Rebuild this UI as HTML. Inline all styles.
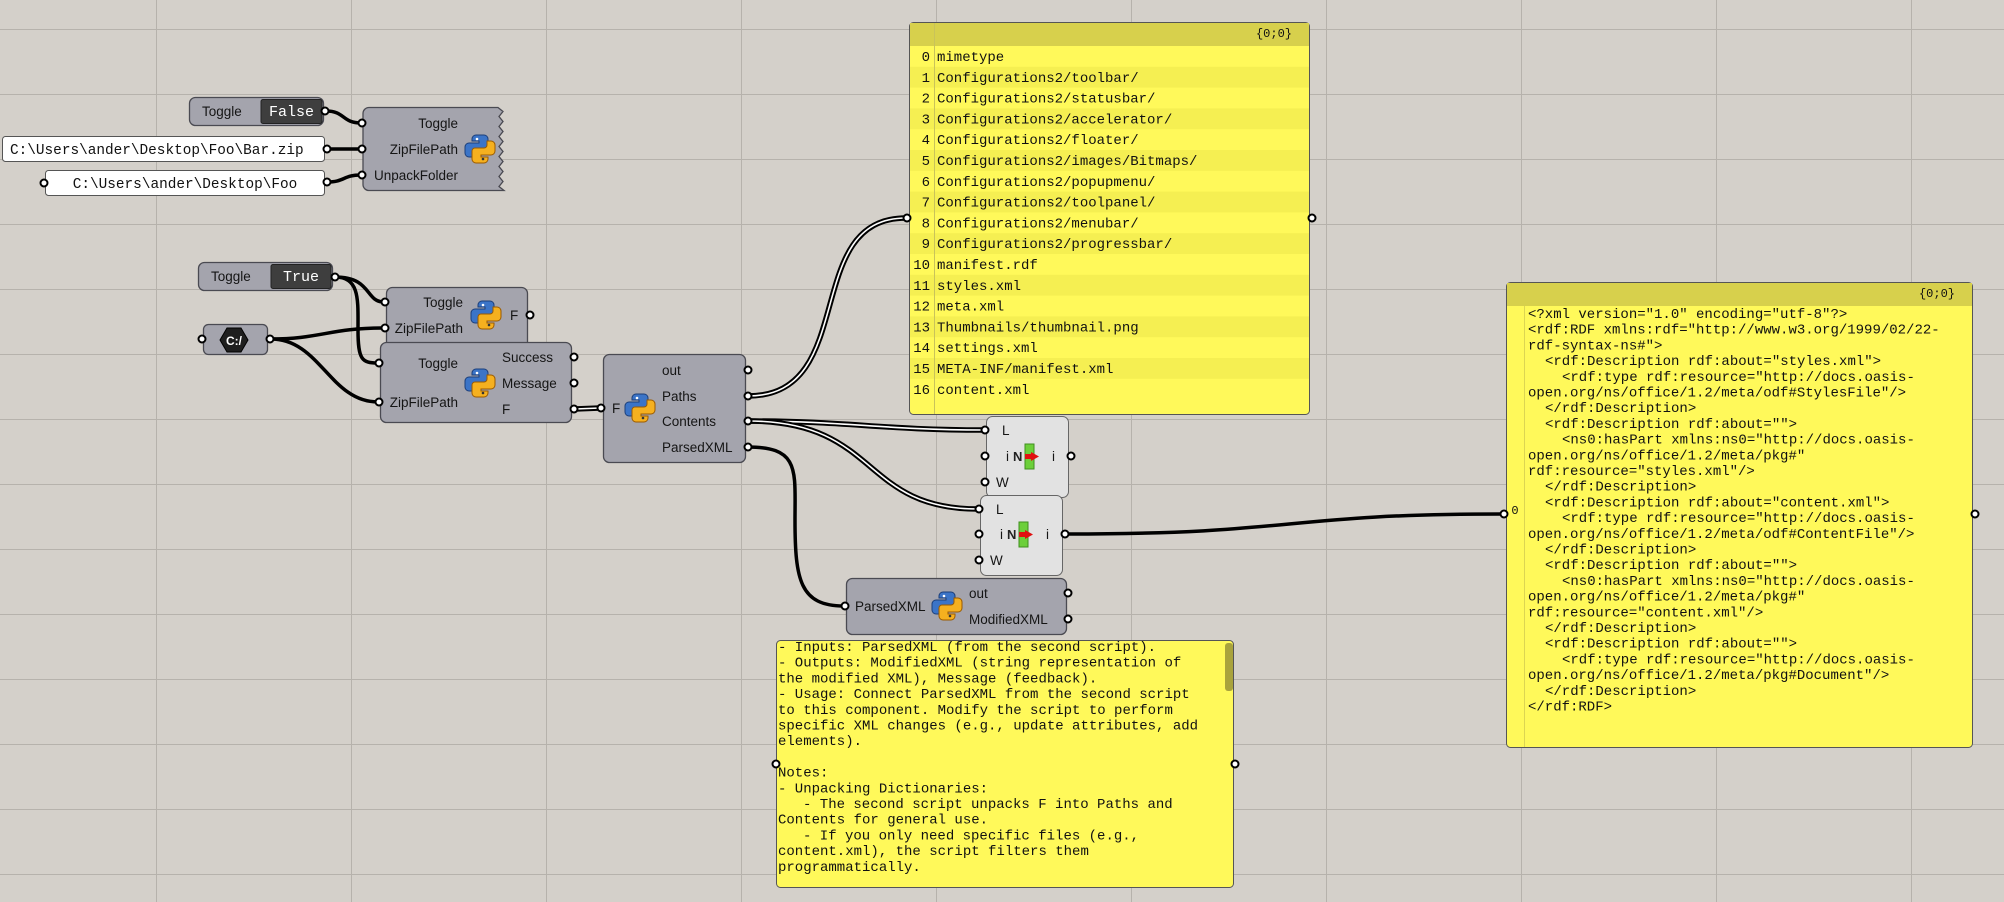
<!DOCTYPE html>
<html><head><meta charset="utf-8"><style>
html,body{margin:0;padding:0;background:#d4d0ca;}
svg{display:block}
.s{font-family:"Liberation Sans",sans-serif;font-size:13.5px;fill:#151515}
.m{font-family:"Liberation Mono",monospace;font-size:14px;fill:#111;white-space:pre}
.m text{white-space:pre}
.c{fill:#a4a4ad;stroke:#4a4a52;stroke-width:1.3}
.p{fill:#fff;stroke:#000;stroke-width:2}
.w{fill:none;stroke:#000;stroke-width:3.5}
.dw{fill:none;stroke:#000;stroke-width:5.5}
.dwi{fill:none;stroke:#fff;stroke-width:1.6}
</style></head><body>
<svg width="2004" height="902" viewBox="0 0 2004 902" xmlns="http://www.w3.org/2000/svg">
<defs>
<g id="py">
<path d="M-1,-14 h5 a4,4 0 0 1 4,4 v8 a3,3 0 0 1 -3,3 h-9 a3,3 0 0 0 -3,3 v4 h-4 a4,4 0 0 1 -4,-4 v-6 a4,4 0 0 1 4,-4 h10 v-2 h-7 v-2 a4,4 0 0 1 4,-4z" fill="#3b74c7" stroke="#1d3f7a" stroke-width="1"/>
<path d="M1,14 h-5 a4,4 0 0 1 -4,-4 v-8 a3,3 0 0 1 3,-3 h9 a3,3 0 0 0 3,-3 v-4 h4 a4,4 0 0 1 4,4 v6 a4,4 0 0 1 -4,4 h-10 v2 h7 v2 a4,4 0 0 1 -4,4z" fill="#f5b01f" stroke="#9a5a00" stroke-width="1"/>
<circle cx="-3" cy="-10" r="1.3" fill="#fff"/><circle cx="3" cy="10" r="1.3" fill="#333"/>
</g>
<g id="itm">
<rect x="-4" y="-12" width="9" height="25" fill="#6ccf3a" stroke="#3f8f1e" stroke-width="1"/>
<rect x="-4" y="-2" width="7" height="5" fill="#e01010"/>
<path d="M2,-4 l8,4.5 l-8,4.5z" fill="#e01010"/>
<text x="-16" y="5" style="font-family:'Liberation Sans',sans-serif;font-size:13px;font-weight:bold;fill:#222">N</text>
</g>
</defs>
<!-- grid -->
<g stroke="#b6b2ac" stroke-width="1">
<line x1="156.5" y1="0" x2="156.5" y2="902"/><line x1="351.5" y1="0" x2="351.5" y2="902"/><line x1="546.5" y1="0" x2="546.5" y2="902"/><line x1="741.5" y1="0" x2="741.5" y2="902"/><line x1="936.5" y1="0" x2="936.5" y2="902"/><line x1="1131.5" y1="0" x2="1131.5" y2="902"/><line x1="1326.5" y1="0" x2="1326.5" y2="902"/><line x1="1521.5" y1="0" x2="1521.5" y2="902"/><line x1="1716.5" y1="0" x2="1716.5" y2="902"/><line x1="1911.5" y1="0" x2="1911.5" y2="902"/>
<line x1="0" y1="29.5" x2="2004" y2="29.5"/><line x1="0" y1="94.5" x2="2004" y2="94.5"/><line x1="0" y1="159.5" x2="2004" y2="159.5"/><line x1="0" y1="224.5" x2="2004" y2="224.5"/><line x1="0" y1="289.5" x2="2004" y2="289.5"/><line x1="0" y1="354.5" x2="2004" y2="354.5"/><line x1="0" y1="419.5" x2="2004" y2="419.5"/><line x1="0" y1="484.5" x2="2004" y2="484.5"/><line x1="0" y1="549.5" x2="2004" y2="549.5"/><line x1="0" y1="614.5" x2="2004" y2="614.5"/><line x1="0" y1="679.5" x2="2004" y2="679.5"/><line x1="0" y1="744.5" x2="2004" y2="744.5"/><line x1="0" y1="809.5" x2="2004" y2="809.5"/><line x1="0" y1="874.5" x2="2004" y2="874.5"/>
</g>

<!-- wires -->
<path class="w" d="M326,111 C345,111 342,123 361,123"/>
<path class="w" d="M327,149 L361,149"/>
<path class="w" d="M327,182 C345,182 343,175 361,175"/>
<path class="w" d="M335,277 C372,277 365,302 384,302"/>
<path class="w" d="M335,277 C360,277 358,300 358,330 C358,360 362,363 378,363"/>
<path class="w" d="M271,339 C320,339 330,328 384,328"/>
<path class="w" d="M271,339 C320,339 330,402 378,402"/>
<path class="w" d="M748,447 C800,447 795,470 795,520 C795,580 800,606 844,606"/>
<path class="w" d="M1068,534 C1300,534 1280,514 1503,514"/>
<g>
<path class="dw" d="M575,409 L600,408"/><path class="dwi" d="M575,409 L600,408"/>
<path class="dw" d="M748,396 C860,396 800,218 906,218"/><path class="dwi" d="M748,396 C860,396 800,218 906,218"/>
<path class="dw" d="M748,421 C850,421 880,430 984,430"/><path class="dwi" d="M748,421 C850,421 880,430 984,430"/>
<path class="dw" d="M748,421 C880,421 860,509 978,509"/><path class="dwi" d="M748,421 C880,421 860,509 978,509"/>
</g>

<!-- Toggle False -->
<rect x="189.5" y="97.5" width="134" height="28" rx="6" class="c"/>
<text x="202" y="116" class="s">Toggle</text>
<rect x="261" y="99.5" width="61" height="24" rx="2" fill="#3e3e3e" stroke="#222"/>
<text x="291.5" y="116" text-anchor="middle" class="m" style="fill:#fff;font-size:15px">False</text>
<circle cx="325" cy="111" r="3.5" class="p"/>

<!-- panels -->
<rect x="2.5" y="136.5" width="322" height="25" rx="3" fill="#fff" stroke="#555"/>
<text x="10" y="154" class="m" style="font-size:14.4px">C:\Users\ander\Desktop\Foo\Bar.zip</text>
<circle cx="327" cy="149" r="3.5" class="p"/>
<rect x="45.5" y="170.5" width="279" height="25" rx="3" fill="#fff" stroke="#555"/>
<text x="185" y="188" text-anchor="middle" class="m" style="font-size:14.4px">C:\Users\ander\Desktop\Foo</text>
<circle cx="44" cy="183" r="3.5" class="p"/><circle cx="327" cy="182" r="3.5" class="p"/>

<!-- comp1 -->
<path d="M369,107.5 H498 l5,4 l-4,5 l4,5 l-4,5 l4,5 l-4,5 l4,5 l-4,5 l4,5 l-4,5 l4,5 l-4,5 l4,5 l-4,5 l4,5 l-4,5 l5,4 H369 a6,6 0 0 1 -6,-6 V113.5 a6,6 0 0 1 6,-6z" class="c"/>
<text x="458" y="128" text-anchor="end" class="s">Toggle</text>
<text x="458" y="154" text-anchor="end" class="s">ZipFilePath</text>
<text x="458" y="180" text-anchor="end" class="s">UnpackFolder</text>
<use href="#py" x="480" y="149"/>
<circle cx="362" cy="123" r="3.5" class="p"/><circle cx="362" cy="149" r="3.5" class="p"/><circle cx="362" cy="175" r="3.5" class="p"/>

<!-- Toggle True -->
<rect x="198.5" y="262.5" width="134" height="28" rx="6" class="c"/>
<text x="211" y="281" class="s">Toggle</text>
<rect x="271" y="264.5" width="60" height="24" rx="2" fill="#3e3e3e" stroke="#222"/>
<text x="301" y="281" text-anchor="middle" class="m" style="fill:#fff;font-size:15px">True</text>
<circle cx="335" cy="277" r="3.5" class="p"/>

<!-- C:/ -->
<rect x="203.5" y="324.5" width="64" height="30" rx="5" class="c"/>
<path d="M227,328 h14 l7,12 l-7,12 h-14 l-7,-12z" fill="#1e1e1e" stroke="#000"/>
<text x="234" y="345" text-anchor="middle" style="font-family:'Liberation Sans',sans-serif;font-size:12px;font-weight:bold;fill:#fff">C:/</text>
<circle cx="202" cy="339" r="3.5" class="p"/><circle cx="270" cy="339" r="3.5" class="p"/>

<!-- comp2 -->
<rect x="386.5" y="287.5" width="141" height="64" rx="6" class="c"/>
<text x="463" y="307" text-anchor="end" class="s">Toggle</text>
<text x="463" y="333" text-anchor="end" class="s">ZipFilePath</text>
<use href="#py" x="486" y="315"/>
<text x="510" y="320" class="s">F</text>
<circle cx="385" cy="302" r="3.5" class="p"/><circle cx="385" cy="328" r="3.5" class="p"/><circle cx="530" cy="315" r="3.5" class="p"/>

<!-- comp3 -->
<rect x="380.5" y="342.5" width="191" height="80" rx="6" class="c"/>
<text x="458" y="368" text-anchor="end" class="s">Toggle</text>
<text x="458" y="407" text-anchor="end" class="s">ZipFilePath</text>
<use href="#py" x="480" y="383"/>
<text x="502" y="362" class="s">Success</text>
<text x="502" y="388" class="s">Message</text>
<text x="502" y="414" class="s">F</text>
<circle cx="379" cy="363" r="3.5" class="p"/><circle cx="379" cy="402" r="3.5" class="p"/>
<circle cx="574" cy="357" r="3.5" class="p"/><circle cx="574" cy="383" r="3.5" class="p"/><circle cx="574" cy="409" r="3.5" class="p"/>

<!-- comp4 -->
<rect x="603.5" y="354.5" width="142" height="108" rx="6" class="c"/>
<text x="612" y="413" class="s">F</text>
<use href="#py" x="640" y="408"/>
<text x="662" y="375" class="s">out</text>
<text x="662" y="401" class="s">Paths</text>
<text x="662" y="426" class="s">Contents</text>
<text x="662" y="452" class="s">ParsedXML</text>
<circle cx="601" cy="408" r="3.5" class="p"/>
<circle cx="748" cy="370" r="3.5" class="p"/><circle cx="748" cy="396" r="3.5" class="p"/><circle cx="748" cy="421" r="3.5" class="p"/><circle cx="748" cy="447" r="3.5" class="p"/>

<!-- list panel -->
<rect x="909.5" y="22.5" width="400" height="392" rx="4" fill="#fff95a" stroke="#555"/>
<rect x="910" y="23" width="399" height="23" fill="#d7d04c"/>
<g>
<rect x="910" y="66.8" width="399" height="20.8" fill="#f5ef52"/>
<rect x="910" y="108.4" width="399" height="20.8" fill="#f5ef52"/>
<rect x="910" y="150" width="399" height="20.8" fill="#f5ef52"/>
<rect x="910" y="191.6" width="399" height="20.8" fill="#f5ef52"/>
<rect x="910" y="233.2" width="399" height="20.8" fill="#f5ef52"/>
<rect x="910" y="274.8" width="399" height="20.8" fill="#f5ef52"/>
<rect x="910" y="316.4" width="399" height="20.8" fill="#f5ef52"/>
<rect x="910" y="358" width="399" height="20.8" fill="#f5ef52"/>
</g>
<line x1="934.5" y1="23" x2="934.5" y2="414" stroke="#c9c35a"/>
<text x="1292" y="37" text-anchor="end" class="m" style="font-size:12px">{0;0}</text>
<g class="m" font-size="14">
<text x="930" y="61" text-anchor="end">0</text><text x="937" y="61">mimetype</text>
<text x="930" y="81.8" text-anchor="end">1</text><text x="937" y="81.8">Configurations2/toolbar/</text>
<text x="930" y="102.6" text-anchor="end">2</text><text x="937" y="102.6">Configurations2/statusbar/</text>
<text x="930" y="123.4" text-anchor="end">3</text><text x="937" y="123.4">Configurations2/accelerator/</text>
<text x="930" y="144.2" text-anchor="end">4</text><text x="937" y="144.2">Configurations2/floater/</text>
<text x="930" y="165" text-anchor="end">5</text><text x="937" y="165">Configurations2/images/Bitmaps/</text>
<text x="930" y="185.8" text-anchor="end">6</text><text x="937" y="185.8">Configurations2/popupmenu/</text>
<text x="930" y="206.6" text-anchor="end">7</text><text x="937" y="206.6">Configurations2/toolpanel/</text>
<text x="930" y="227.4" text-anchor="end">8</text><text x="937" y="227.4">Configurations2/menubar/</text>
<text x="930" y="248.2" text-anchor="end">9</text><text x="937" y="248.2">Configurations2/progressbar/</text>
<text x="930" y="269" text-anchor="end">10</text><text x="937" y="269">manifest.rdf</text>
<text x="930" y="289.8" text-anchor="end">11</text><text x="937" y="289.8">styles.xml</text>
<text x="930" y="310.6" text-anchor="end">12</text><text x="937" y="310.6">meta.xml</text>
<text x="930" y="331.4" text-anchor="end">13</text><text x="937" y="331.4">Thumbnails/thumbnail.png</text>
<text x="930" y="352.2" text-anchor="end">14</text><text x="937" y="352.2">settings.xml</text>
<text x="930" y="373" text-anchor="end">15</text><text x="937" y="373">META-INF/manifest.xml</text>
<text x="930" y="393.8" text-anchor="end">16</text><text x="937" y="393.8">content.xml</text>
</g>
<circle cx="907" cy="218" r="3.5" class="p"/><circle cx="1312" cy="218" r="3.5" class="p"/>

<!-- item node 1 -->
<rect x="986.5" y="416.5" width="82" height="81" rx="6" fill="#e2e2e2" stroke="#666"/>
<text x="1002" y="435" class="s">L</text>
<text x="1006" y="461" class="s">i</text>
<use href="#itm" x="1029" y="456"/>
<text x="1052" y="461" class="s">i</text>
<text x="996" y="487" class="s">W</text>
<circle cx="985" cy="430" r="3.5" class="p"/><circle cx="985" cy="456" r="3.5" class="p"/><circle cx="985" cy="482" r="3.5" class="p"/><circle cx="1071" cy="456" r="3.5" class="p"/>

<!-- item node 2 -->
<rect x="980.5" y="495.5" width="82" height="80" rx="6" fill="#e2e2e2" stroke="#666"/>
<text x="996" y="514" class="s">L</text>
<text x="1000" y="539" class="s">i</text>
<use href="#itm" x="1023" y="534"/>
<text x="1046" y="539" class="s">i</text>
<text x="990" y="565" class="s">W</text>
<circle cx="979" cy="509" r="3.5" class="p"/><circle cx="979" cy="534" r="3.5" class="p"/><circle cx="979" cy="560" r="3.5" class="p"/><circle cx="1065" cy="534" r="3.5" class="p"/>

<!-- comp5 -->
<rect x="846.5" y="578.5" width="220" height="56" rx="6" class="c"/>
<text x="855" y="611" class="s">ParsedXML</text>
<use href="#py" x="947" y="606"/>
<text x="969" y="598" class="s">out</text>
<text x="969" y="624" class="s">ModifiedXML</text>
<circle cx="845" cy="606" r="3.5" class="p"/><circle cx="1068" cy="593" r="3.5" class="p"/><circle cx="1068" cy="619" r="3.5" class="p"/>

<!-- note panel -->
<svg x="776" y="640" width="459" height="249">
<rect x="0.5" y="0.5" width="457" height="247" rx="4" fill="#fff95a" stroke="#555"/>
<rect x="449" y="3" width="8" height="48" rx="3" fill="#a9a33c"/>
<g class="m">
<text x="2" y="11">- Inputs: ParsedXML (from the second script).</text>
<text x="2" y="26.7">- Outputs: ModifiedXML (string representation of</text>
<text x="2" y="42.4">the modified XML), Message (feedback).</text>
<text x="2" y="58.1">- Usage: Connect ParsedXML from the second script</text>
<text x="2" y="73.8">to this component. Modify the script to perform</text>
<text x="2" y="89.5">specific XML changes (e.g., update attributes, add</text>
<text x="2" y="105.2">elements).</text>
<text x="2" y="136.6">Notes:</text>
<text x="2" y="152.3">- Unpacking Dictionaries:</text>
<text x="27" y="168">- The second script unpacks F into Paths and</text>
<text x="2" y="183.7">Contents for general use.</text>
<text x="27" y="199.4">- If you only need specific files (e.g.,</text>
<text x="2" y="215.1">content.xml), the script filters them</text>
<text x="2" y="230.8">programmatically.</text>
</g>
</svg>
<circle cx="776" cy="764" r="3.5" class="p"/><circle cx="1235" cy="764" r="3.5" class="p"/>

<!-- XML panel -->
<rect x="1506.5" y="282.5" width="466" height="465" rx="4" fill="#fff95a" stroke="#555"/>
<rect x="1507" y="283" width="465" height="23" fill="#d7d04c"/>
<line x1="1524.5" y1="306" x2="1524.5" y2="747" stroke="#dcd552"/>
<text x="1955" y="297" text-anchor="end" class="m" style="font-size:12px">{0;0}</text>
<text x="1515" y="514" text-anchor="middle" class="m" style="font-size:12px">0</text>
<g class="m">
<text x="1528" y="318">&lt;?xml version="1.0" encoding="utf-8"?&gt;</text>
<text x="1528" y="333.7">&lt;rdf:RDF xmlns:rdf="http://www.w3.org/1999/02/22-</text>
<text x="1528" y="349.4">rdf-syntax-ns#"&gt;</text>
<text x="1545" y="365.1">&lt;rdf:Description rdf:about="styles.xml"&gt;</text>
<text x="1562" y="380.8">&lt;rdf:type rdf:resource="http://docs.oasis-</text>
<text x="1528" y="396.5">open.org/ns/office/1.2/meta/odf#StylesFile"/&gt;</text>
<text x="1545" y="412.2">&lt;/rdf:Description&gt;</text>
<text x="1545" y="427.9">&lt;rdf:Description rdf:about=""&gt;</text>
<text x="1562" y="443.6">&lt;ns0:hasPart xmlns:ns0="http://docs.oasis-</text>
<text x="1528" y="459.3">open.org/ns/office/1.2/meta/pkg#"</text>
<text x="1528" y="475">rdf:resource="styles.xml"/&gt;</text>
<text x="1545" y="490.7">&lt;/rdf:Description&gt;</text>
<text x="1545" y="506.4">&lt;rdf:Description rdf:about="content.xml"&gt;</text>
<text x="1562" y="522.1">&lt;rdf:type rdf:resource="http://docs.oasis-</text>
<text x="1528" y="537.8">open.org/ns/office/1.2/meta/odf#ContentFile"/&gt;</text>
<text x="1545" y="553.5">&lt;/rdf:Description&gt;</text>
<text x="1545" y="569.2">&lt;rdf:Description rdf:about=""&gt;</text>
<text x="1562" y="584.9">&lt;ns0:hasPart xmlns:ns0="http://docs.oasis-</text>
<text x="1528" y="600.6">open.org/ns/office/1.2/meta/pkg#"</text>
<text x="1528" y="616.3">rdf:resource="content.xml"/&gt;</text>
<text x="1545" y="632">&lt;/rdf:Description&gt;</text>
<text x="1545" y="647.7">&lt;rdf:Description rdf:about=""&gt;</text>
<text x="1562" y="663.4">&lt;rdf:type rdf:resource="http://docs.oasis-</text>
<text x="1528" y="679.1">open.org/ns/office/1.2/meta/pkg#Document"/&gt;</text>
<text x="1545" y="694.8">&lt;/rdf:Description&gt;</text>
<text x="1528" y="710.5">&lt;/rdf:RDF&gt;</text>
</g>
<circle cx="1504" cy="514" r="3.5" class="p"/><circle cx="1975" cy="514" r="3.5" class="p"/>
</svg>
</body></html>
